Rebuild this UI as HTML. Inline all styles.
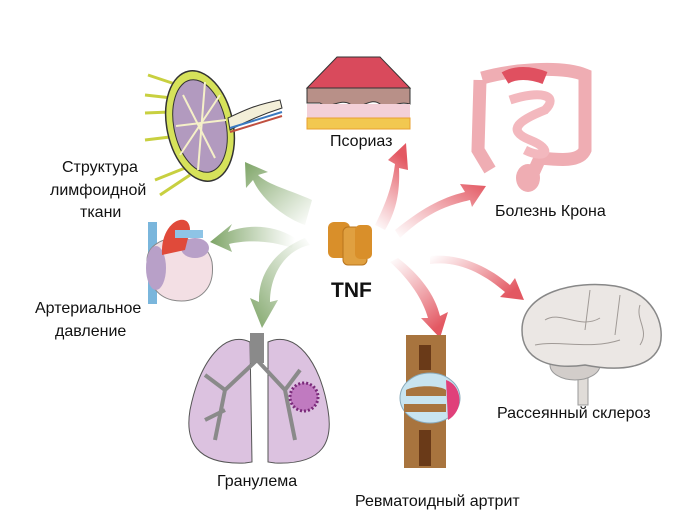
<!DOCTYPE html><html><head><style>body{margin:0;background:#fff}svg{display:block}text{font-family:"Liberation Sans",sans-serif;font-size:16px;fill:#111}</style></head><body>
<svg width="700" height="527" viewBox="0 0 700 527">
<defs>
<linearGradient id="g1" x1="1" y1="1" x2="0" y2="0"><stop offset="0" stop-color="#8fb07a" stop-opacity="0"/><stop offset="1" stop-color="#7da466"/></linearGradient>
<linearGradient id="g2" x1="1" y1="0" x2="0" y2="0"><stop offset="0" stop-color="#8fb07a" stop-opacity="0"/><stop offset="1" stop-color="#7da466"/></linearGradient>
<linearGradient id="g3" x1="1" y1="0" x2="0" y2="1"><stop offset="0" stop-color="#8fb07a" stop-opacity="0"/><stop offset="1" stop-color="#7da466"/></linearGradient>
<linearGradient id="r1" x1="0" y1="1" x2="0.3" y2="0"><stop offset="0" stop-color="#e6707a" stop-opacity="0"/><stop offset="1" stop-color="#e35862"/></linearGradient>
<linearGradient id="r2" x1="0" y1="1" x2="1" y2="0"><stop offset="0" stop-color="#e6707a" stop-opacity="0"/><stop offset="1" stop-color="#e35862"/></linearGradient>
<linearGradient id="r3" x1="0" y1="0" x2="1" y2="0.6"><stop offset="0" stop-color="#e6707a" stop-opacity="0"/><stop offset="1" stop-color="#e35862"/></linearGradient>
<linearGradient id="r4" x1="0" y1="0" x2="0.6" y2="1"><stop offset="0" stop-color="#e6707a" stop-opacity="0"/><stop offset="1" stop-color="#e35862"/></linearGradient>
</defs>
<!-- green arrows -->
<path d="M312,200 C290,190 268,185 258,175 L268,172 L245,162 L246,188 L253,180 C262,200 285,218 305,225 Z" fill="url(#g1)"/>
<path d="M295,238 C270,222 242,226 228,232 L232,224 L210,242 L232,252 L229,244 C245,240 270,240 292,248 Z" fill="url(#g2)"/>
<path d="M310,245 C285,250 270,275 270,302 L278,300 L262,328 L250,298 L259,302 C258,270 280,248 305,238 Z" fill="url(#g3)"/>
<!-- red arrows -->
<path d="M385,230 C397,210 400,190 399,168 L408,170 L406,143 L388,160 L395,164 C392,188 385,205 375,225 Z" fill="url(#r1)"/>
<path d="M400,238 C430,210 450,205 470,200 L472,207 L486,186 L460,184 L465,192 C440,198 420,210 395,230 Z" fill="url(#r2)"/>
<path d="M430,264 C460,260 485,275 505,292 L500,297 L524,300 L515,278 L510,285 C490,268 462,253 430,256 Z" fill="url(#r3)"/>
<path d="M390,262 C410,280 423,300 428,318 L421,318 L440,338 L448,312 L440,316 C435,295 420,275 398,258 Z" fill="url(#r4)"/>
<!-- TNF -->
<rect x="328" y="222" width="22" height="36" rx="6" fill="#d98f2a"/>
<rect x="343" y="227" width="24" height="38" rx="5" fill="#e0a040" stroke="#b9741c"/>
<rect x="355" y="225" width="17" height="34" rx="5" fill="#d98f2a"/>
<text x="331" y="297" style="font-size:21px;font-weight:bold">TNF</text>
<!-- lymph node -->
<g stroke="#c8d040" stroke-width="3"><line x1="148" y1="75" x2="178" y2="85"/><line x1="145" y1="95" x2="172" y2="98"/><line x1="145" y1="113" x2="170" y2="112"/><line x1="145" y1="140" x2="170" y2="137"/><line x1="155" y1="180" x2="185" y2="168"/><line x1="160" y1="195" x2="190" y2="175"/></g>
<ellipse cx="200" cy="126" rx="33" ry="56" fill="#d6e25a" stroke="#333" stroke-width="1.5" transform="rotate(-12 200 126)"/>
<ellipse cx="200" cy="126" rx="26" ry="47" fill="#b29abf" stroke="#333" transform="rotate(-12 200 126)"/>
<g stroke="#f5f0c8" stroke-width="2"><line x1="205" y1="82" x2="198" y2="170"/><line x1="176" y1="126" x2="226" y2="120"/><line x1="183" y1="95" x2="215" y2="158"/><line x1="180" y1="155" x2="220" y2="95"/></g>
<path d="M228,118 C245,110 255,105 280,100 L282,108 C260,115 245,122 230,130 Z" fill="#f3efd8" stroke="#333"/>
<path d="M230,128 L282,112" stroke="#3a7ac0" stroke-width="2"/><path d="M230,132 L282,116" stroke="#c05040" stroke-width="2"/>
<!-- psoriasis -->
<path d="M307,88 L337,57 L380,57 L410,88 Z" fill="#d94a5c" stroke="#333"/>
<path d="M307,88 L410,88 L410,104 C395,100 390,112 380,104 C370,96 360,112 350,104 C340,98 330,110 320,103 L307,103 Z" fill="#b89088" stroke="#333"/>
<rect x="307" y="104" width="103" height="14" fill="#f3d0d8"/>
<rect x="307" y="118" width="103" height="11" fill="#f2c850" stroke="#e8a030"/>
<text x="330" y="146">Псориаз</text>
<!-- colon -->
<path d="M482,78 C510,70 560,65 585,75 L585,150 C580,162 560,160 540,158 L530,180" fill="none" stroke="#efadb3" stroke-width="13"/>
<path d="M480,80 L478,150 L490,170" fill="none" stroke="#efadb3" stroke-width="13"/>
<path d="M510,100 C540,90 560,95 545,110 C520,120 505,130 530,140 C555,150 545,160 525,150" fill="none" stroke="#f3b8be" stroke-width="9"/>
<path d="M505,78 C515,72 530,72 545,78" stroke="#e05060" stroke-width="13" fill="none"/>
<ellipse cx="528" cy="178" rx="12" ry="14" fill="#efadb3"/>
<text x="495" y="216">Болезнь Крона</text>
<text x="62" y="172">Структура</text><text x="50" y="195">лимфоидной</text><text x="80" y="217">ткани</text>
<!-- heart -->
<rect x="148" y="222" width="9" height="82" fill="#7ab6dc"/>
<path d="M147,262 C145,232 205,228 212,262 C216,292 195,305 172,300 C155,296 148,282 147,262 Z" fill="#f3dfe4" stroke="#888"/>
<ellipse cx="156" cy="268" rx="10" ry="22" fill="#b8a0c8"/>
<ellipse cx="195" cy="248" rx="14" ry="10" fill="#b8a0c8"/>
<path d="M162,255 C160,220 190,210 190,230 L185,250 Z" fill="#e04a3a"/>
<rect x="175" y="230" width="28" height="8" fill="#8ec4e6"/>
<text x="35" y="313">Артериальное</text><text x="55" y="336">давление</text>
<!-- lungs -->
<path d="M250,342 C225,330 200,360 190,410 C185,440 195,465 245,463 L252,462 Z" fill="#dcc2e0" stroke="#555"/>
<path d="M268,342 C295,330 320,360 328,410 C333,440 325,465 275,463 L268,462 Z" fill="#dcc2e0" stroke="#555"/>
<rect x="250" y="333" width="14" height="30" fill="#8a8a8a"/>
<g stroke="#8a8a8a" stroke-width="4" fill="none"><path d="M257,360 L225,390 L215,440"/><path d="M257,360 L285,390 L295,440"/><path d="M225,390 L205,375"/><path d="M225,410 L205,420"/><path d="M285,390 L300,370"/></g>
<circle cx="304" cy="397" r="14" fill="#c07ac0" stroke="#7a2a7a" stroke-dasharray="2 2" stroke-width="3"/>
<text x="217" y="486">Гранулема</text>
<!-- joint -->
<rect x="406" y="335" width="40" height="55" fill="#a8743e"/>
<rect x="404" y="410" width="42" height="58" fill="#a8743e"/>
<ellipse cx="430" cy="398" rx="30" ry="25" fill="#c8e4f0" stroke="#8ab"/>
<path d="M406,390 C415,385 440,385 446,390 L446,396 L406,396 Z" fill="#a8743e"/>
<path d="M404,404 L446,404 L446,412 L404,412 Z" fill="#a8743e"/>
<path d="M446,380 C462,385 465,410 448,420 Z" fill="#e0407a"/>
<rect x="419" y="345" width="12" height="25" fill="#6a3a18"/><rect x="419" y="430" width="12" height="36" fill="#6a3a18"/>
<text x="355" y="506">Ревматоидный артрит</text>
<!-- brain -->
<rect x="578" y="360" width="10" height="45" fill="#e0dcd8" stroke="#999"/>
<ellipse cx="575" cy="365" rx="25" ry="15" fill="#d2cdca" stroke="#999"/>
<path d="M522,330 C522,292 575,280 615,286 C655,293 665,325 660,345 C652,368 620,372 585,365 C550,370 522,360 522,330 Z" fill="#ebe7e4" stroke="#888" stroke-width="1.5"/>
<g stroke="#a09a96" fill="none"><path d="M545,320 C560,310 580,330 600,318"/><path d="M535,345 C560,340 590,350 620,340"/><path d="M590,290 L585,330"/><path d="M620,295 L615,335"/><path d="M640,305 C635,320 650,330 640,345"/></g>
<text x="497" y="418">Рассеянный склероз</text>
</svg></body></html>
